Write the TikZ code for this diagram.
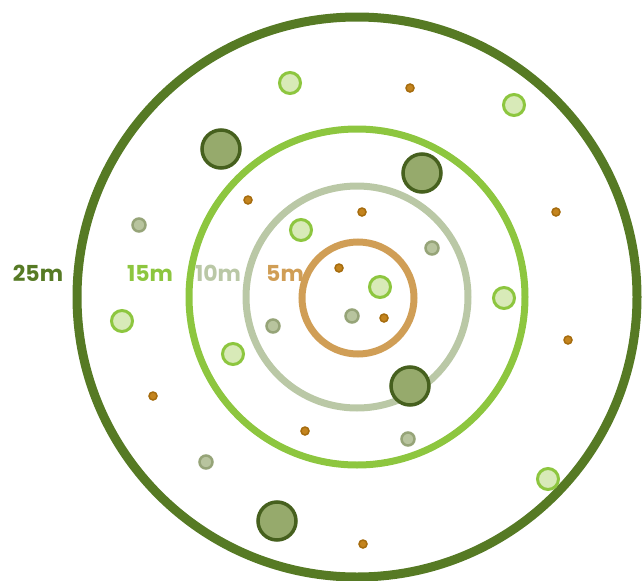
\documentclass[tikz,border=0pt]{standalone}
\usepackage{fontspec}
\newfontfamily\ringfont{Poppins}
\definecolor{ring25}{RGB}{86,122,36}
\definecolor{ring15}{RGB}{141,198,63}
\definecolor{ring10}{RGB}{186,200,166}
\definecolor{ring5}{RGB}{208,158,86}
\definecolor{oldborder}{RGB}{70,96,30}
\definecolor{oldfill}{RGB}{150,170,108}
\definecolor{youngfill}{RGB}{216,234,184}
\definecolor{poleborder}{RGB}{150,164,120}
\definecolor{polefill}{RGB}{184,196,158}
\definecolor{seedborder}{RGB}{166,108,14}
\definecolor{seedfill}{RGB}{196,132,30}

\begin{document}
\begin{tikzpicture}[x=1pt,y=-1pt,
  ring/.style={line width=7pt},
  oldtree/.style={circle,draw=oldborder,fill=oldfill,line width=3.5pt,minimum size=38pt,inner sep=0pt},
  youngtree/.style={circle,draw=ring15,fill=youngfill,line width=3pt,minimum size=21pt,inner sep=0pt},
  poletree/.style={circle,draw=poleborder,fill=polefill,line width=2.5pt,minimum size=13pt,inner sep=0pt},
  seedling/.style={circle,draw=seedborder,fill=seedfill,line width=1.5pt,minimum size=8pt,inner sep=0pt},
  radius label/.style={font=\ringfont\bfseries\fontsize{22}{22}\selectfont,inner sep=0pt}]
  \useasboundingbox (0,0) rectangle (643,581);

  % plot rings
  \coordinate (centre) at (357,297);
  \draw[ring,ring25,line width=9pt] (centre) circle[radius=280];
  \draw[ring,ring15] (centre) circle[radius=168];
  \draw[ring,ring10] (centre) circle[radius=111];
  \draw[ring,ring5] (358,298) circle[radius=56];

  % ring labels
  \node[radius label,text=ring25] (label25) at (38,273) {25m};
  \node[radius label,text=ring15] (label15) at (150,273) {15m};
  \node[radius label,text=ring10] (label10) at (218,273) {10m};
  \node[radius label,text=ring5]  (label5)  at (285,273) {5m};

  % large trees
  \node[oldtree] (old1) at (221,149) {};
  \node[oldtree] (old2) at (422,173) {};
  \node[oldtree] (old3) at (410,386) {};
  \node[oldtree] (old4) at (277,521) {};

  % young trees
  \node[youngtree] (young1) at (290,83) {};
  \node[youngtree] (young2) at (514,105) {};
  \node[youngtree] (young3) at (301,230) {};
  \node[youngtree] (young4) at (380,287) {};
  \node[youngtree] (young5) at (504,298) {};
  \node[youngtree] (young6) at (122,321) {};
  \node[youngtree] (young7) at (233,354) {};
  \node[youngtree] (young8) at (548,479) {};

  % poles
  \node[poletree] (pole1) at (139,225) {};
  \node[poletree] (pole2) at (432,248) {};
  \node[poletree] (pole3) at (352,316) {};
  \node[poletree] (pole4) at (273,326) {};
  \node[poletree] (pole5) at (408,439) {};
  \node[poletree] (pole6) at (206,462) {};

  % seedlings
  \node[seedling] (seed1)  at (410,88) {};
  \node[seedling] (seed2)  at (248,200) {};
  \node[seedling] (seed3)  at (362,212) {};
  \node[seedling] (seed4)  at (556,212) {};
  \node[seedling] (seed5)  at (339,268) {};
  \node[seedling] (seed6)  at (384,318) {};
  \node[seedling] (seed7)  at (568,340) {};
  \node[seedling] (seed8)  at (153,396) {};
  \node[seedling] (seed9)  at (305,431) {};
  \node[seedling] (seed10) at (363,544) {};
\end{tikzpicture}
\end{document}
